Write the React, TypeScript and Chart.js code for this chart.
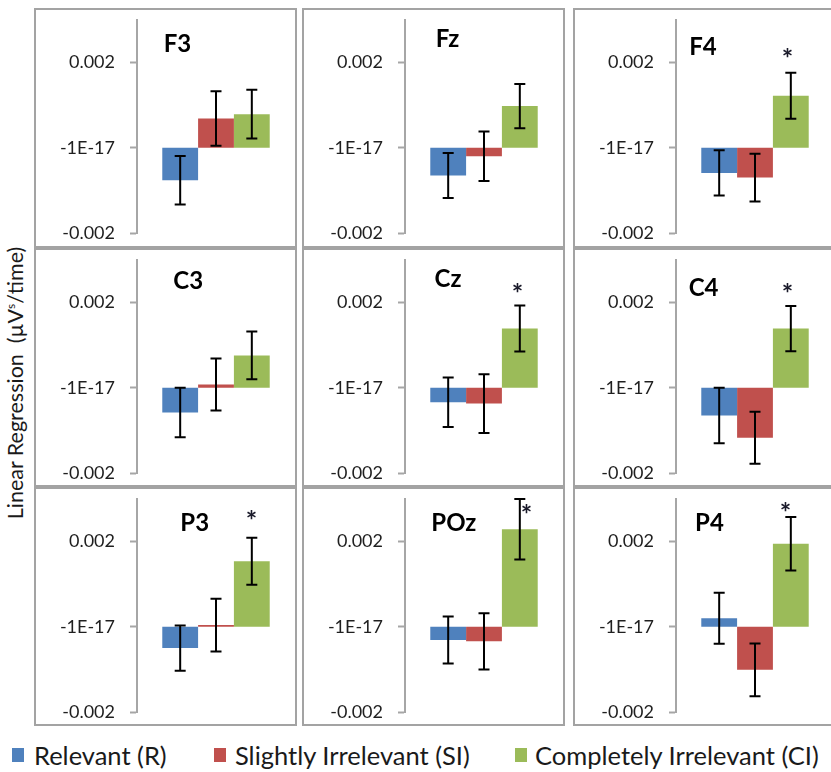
import React, { useEffect, useRef } from 'react';
import { Chart, registerables } from 'chart.js';

Chart.register(...registerables);

// ---------------- data ----------------
const channels = ['F3', 'Fz', 'F4', 'C3', 'Cz', 'C4', 'P3', 'POz', 'P4'];
const seriesNames = ['Relevant (R)', 'Slightly Irrelevant (SI)', 'Completely Irrelevant (CI)'];
const seriesColors = ['#4F81BD', '#C0504D', '#9BBB59'];

const relevant = [-0.00076, -0.00065, -0.00059, -0.00058, -0.00034, -0.00065, -0.0005, -0.00031, 0.0002];
const relevantErr = [0.00057, 0.00053, 0.00053, 0.00058, 0.00058, 0.00065, 0.00053, 0.00055, 0.0006];
const slightly = [0.00069, -0.0002, -0.0007, 0.00008, -0.00037, -0.00117, 0.00004, -0.00034, -0.00101];
const slightlyErr = [0.00064, 0.00058, 0.00056, 0.00061, 0.00069, 0.00061, 0.00062, 0.00066, 0.00062];
const completely = [0.00079, 0.00098, 0.00122, 0.00076, 0.00139, 0.00139, 0.00154, 0.00229, 0.00195];
const completelyErr = [0.00057, 0.00052, 0.00054, 0.00056, 0.00054, 0.00053, 0.00055, 0.00071, 0.00063];
const significant = [false, false, true, false, true, true, true, true, true];

const tickValues = [-0.002, -1e-17, 0.002];
const tickLabels = ['-0.002', '-1E-17', '0.002'];
const yMin = -0.002;
const yMax = 0.003;

// annotation placement (value level + pixel shift)
const titleLevel = [0.00247, 0.00257, 0.00238, 0.00254, 0.00257, 0.00237, 0.00245, 0.00247, 0.00245];
const titleShift = [40.5, 43, 27.5, 50.7, 43, 27.6, 57.7, 49.3, 34];
const starLevel = [0, 0, 0.00222, 0, 0.00234, 0.00234, 0.00263, 0.00277, 0.00282];
const starShift = [0, 0, -3, 0, -2, -3, 0, 7, -5];

// ---------------- layout ----------------
const colLeft = [34, 302, 573];
const rowTop = [8, 248, 487];
const rowHeight = [240, 239, 239];
const panelWidth = 263;
const borderW = 2;
const axisLeft = 101;
const plotTop = 10;
const plotBottom = 223;

const FONT = 'Lato, "Open Sans", sans-serif';

const decorPlugin = {
  id: 'panelDecor',
  afterDatasetsDraw(chart: any, _args: any, opts: any) {
    const ctx = chart.ctx;
    const yScale = chart.scales.y;
    const area = chart.chartArea;
    ctx.save();
    // error bars
    ctx.strokeStyle = '#000';
    ctx.lineWidth = 2;
    chart.data.datasets.forEach((ds: any, i: number) => {
      const meta = chart.getDatasetMeta(i);
      const el = meta.data[0];
      if (!el) return;
      const v = ds.data[0];
      const e = opts.errors[i];
      const x = el.x;
      const yHi = yScale.getPixelForValue(v + e);
      const yLo = yScale.getPixelForValue(v - e);
      ctx.beginPath();
      ctx.moveTo(x, yHi);
      ctx.lineTo(x, yLo);
      ctx.moveTo(x - 5.5, yHi);
      ctx.lineTo(x + 5.5, yHi);
      ctx.moveTo(x - 5.5, yLo);
      ctx.lineTo(x + 5.5, yLo);
      ctx.stroke();
    });
    // title
    ctx.fillStyle = '#000';
    ctx.font = 'bold 24px ' + FONT;
    ctx.textAlign = 'left';
    ctx.textBaseline = 'alphabetic';
    const m = ctx.measureText(opts.title);
    const cx = area.left + opts.titleShift;
    const cy = yScale.getPixelForValue(opts.titleLevel);
    const w = m.actualBoundingBoxLeft + m.actualBoundingBoxRight;
    ctx.fillText(
      opts.title,
      cx - w / 2 + m.actualBoundingBoxLeft,
      cy + (m.actualBoundingBoxAscent - m.actualBoundingBoxDescent) / 2
    );
    // significance star
    if (opts.star) {
      const meta = chart.getDatasetMeta(2);
      const el = meta.data[0];
      ctx.font = 'bold 27px ' + FONT;
      ctx.fillStyle = '#1a1a2a';
      const sm = ctx.measureText('*');
      const sx = el.x + opts.starShift;
      const sy = yScale.getPixelForValue(opts.starLevel);
      const sw = sm.actualBoundingBoxLeft + sm.actualBoundingBoxRight;
      ctx.fillText(
        '*',
        sx - sw / 2 + sm.actualBoundingBoxLeft,
        sy + (sm.actualBoundingBoxAscent - sm.actualBoundingBoxDescent) / 2
      );
    }
    ctx.restore();
  },
};

function Panel({ idx }: { idx: number }) {
  const ref = useRef<HTMLCanvasElement | null>(null);
  const row = Math.floor(idx / 3);
  const col = idx % 3;
  const h = rowHeight[row];
  const cw = panelWidth - 2 * borderW;
  const ch = h - 2 * borderW;

  useEffect(() => {
    if (!ref.current) return;
    const values = [relevant[idx], slightly[idx], completely[idx]];
    const chart = new Chart(ref.current, {
      type: 'bar',
      data: {
        labels: [channels[idx]],
        datasets: values.map((v, i) => ({
          label: seriesNames[i],
          data: [v],
          backgroundColor: seriesColors[i],
          borderWidth: 0,
          categoryPercentage: 0.68,
          barPercentage: 1,
        })),
      },
      options: {
        responsive: false,
        animation: false,
        devicePixelRatio: 1,
        layout: { padding: { left: 0, right: 0, top: plotTop, bottom: ch - plotBottom } },
        plugins: {
          legend: { display: false },
          tooltip: { enabled: false },
          title: { display: false },
          panelDecor: {
            errors: [relevantErr[idx], slightlyErr[idx], completelyErr[idx]],
            title: channels[idx],
            titleLevel: titleLevel[idx],
            titleShift: titleShift[idx],
            star: significant[idx],
            starLevel: starLevel[idx],
            starShift: starShift[idx],
          },
        } as any,
        scales: {
          x: { display: false },
          y: {
            min: yMin,
            max: yMax,
            afterBuildTicks: (s: any) => {
              s.ticks = tickValues.map((v) => ({ value: v }));
            },
            afterFit: (s: any) => {
              s.width = axisLeft;
              s.paddingTop = 0;
              s.paddingBottom = 0;
            },
            ticks: {
              callback: (_v: any, i: number) => tickLabels[i],
              font: { family: FONT, size: 18, lineHeight: 1 },
              color: '#1f1f1f',
              padding: 15,
            },
            grid: {
              display: true,
              drawOnChartArea: false,
              drawTicks: true,
              tickLength: 7,
              tickColor: '#A6A6A6',
              tickWidth: 2,
            },
            border: { display: true, color: '#A6A6A6', width: 2 },
          },
        },
      },
      plugins: [decorPlugin as any],
    });
    return () => chart.destroy();
  }, [idx]);

  return (
    <div
      style={{
        position: 'absolute',
        left: colLeft[col],
        top: rowTop[row],
        width: panelWidth,
        height: h,
        boxSizing: 'border-box',
        border: `${borderW}px solid #A3A3A3`,
        background: '#fff',
      }}
    >
      <canvas ref={ref} width={cw} height={ch} style={{ display: 'block', width: cw, height: ch }} />
    </div>
  );
}

const legendSquareLeft = [12, 214, 515];
const legendTextLeft = [34, 235, 535];

export default function App() {
  return (
    <div
      style={{
        position: 'absolute',
        left: 0,
        top: 0,
        width: 831,
        height: 772,
        overflow: 'hidden',
        background: '#fff',
        fontFamily: FONT,
      }}
    >
      {channels.map((_, i) => (
        <Panel key={i} idx={i} />
      ))}
      <div
        style={{
          position: 'absolute',
          left: 15,
          top: 383,
          transform: 'translate(-50%, -50%) rotate(-90deg)',
          whiteSpace: 'pre',
          fontSize: 21.5,
          color: '#1a1a1a',
        }}
      >
        Linear Regression  (µV<span style={{ fontSize: 12, verticalAlign: 'super' }}>s</span>/time)
      </div>
      {seriesNames.map((name, i) => (
        <React.Fragment key={name}>
          <div
            style={{
              position: 'absolute',
              left: legendSquareLeft[i],
              top: 748,
              width: 12,
              height: 14,
              background: seriesColors[i],
            }}
          />
          <div
            style={{
              position: 'absolute',
              left: legendTextLeft[i],
              top: 740,
              fontSize: 25.5,
              lineHeight: '30px',
              whiteSpace: 'nowrap',
              color: '#1a1a1a',
            }}
          >
            {name}
          </div>
        </React.Fragment>
      ))}
    </div>
  );
}
